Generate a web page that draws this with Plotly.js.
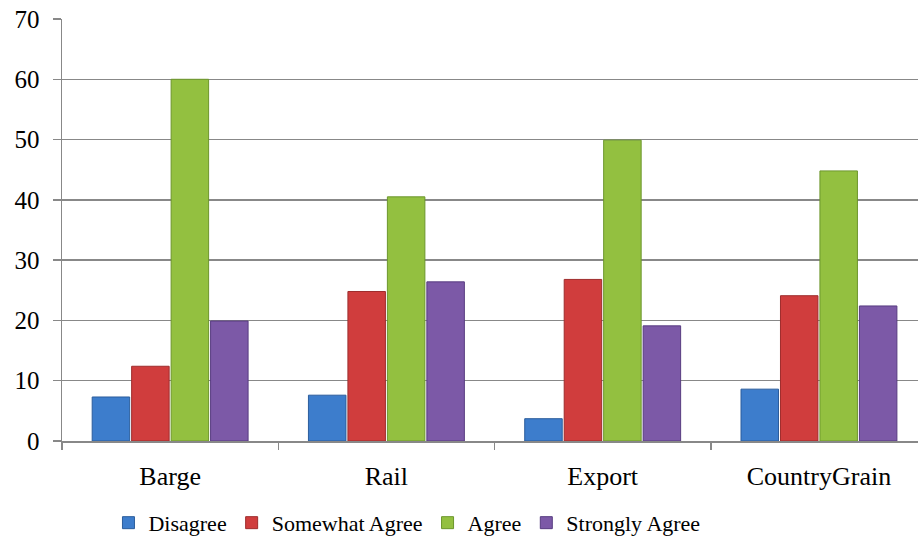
<!DOCTYPE html>
<html>
<head>
<meta charset="utf-8">
<script src="https://cdn.plot.ly/plotly-3.0.1.min.js"></script>
<style>
  html, body { margin: 0; padding: 0; background: #ffffff; }
  #chart { width: 918px; height: 548px; }
</style>
</head>
<body>
<div id="chart"></div>
<script>
// Survey responses by transport mode (percent of respondents)
const categories = ["Barge", "Rail", "Export", "CountryGrain"];
const seriesNames = ["Disagree", "Somewhat Agree", "Agree", "Strongly Agree"];
const disagree = [7.3, 7.6, 3.7, 8.6];
const somewhatAgree = [12.4, 24.8, 26.8, 24.1];
const agree = [60.0, 40.5, 49.9, 44.8];
const stronglyAgree = [19.9, 26.4, 19.1, 22.4];
const yTicks = [0, 10, 20, 30, 40, 50, 60, 70];

const fills = ["#3d7dcc", "#d03d3d", "#93c040", "#7c59a7"];
const edges = ["#2b5d9c", "#9e2c2c", "#6c962c", "#573c80"];
const values = [disagree, somewhatAgree, agree, stronglyAgree];

const traces = values.map((v, i) => ({
  type: "bar",
  name: seriesNames[i],
  x: categories,
  y: v,
  marker: { color: fills[i], line: { color: edges[i], width: 1 } },
  hoverinfo: "skip"
}));

const serif = "Liberation Serif, Times New Roman, serif";
const axisGrey = "#888888";
const layout = {
  width: 918,
  height: 548,
  margin: { l: 62, r: 0, t: 19, b: 107 },
  paper_bgcolor: "#ffffff",
  plot_bgcolor: "#ffffff",
  font: { family: serif, color: "#000000", size: 22 },
  barmode: "group",
  bargap: 0.27,
  bargroupgap: 0.05,
  showlegend: true,
  legend: {
    orientation: "h",
    x: 0.403, xanchor: "center",
    y: -0.194, yanchor: "middle",
    font: { family: serif, size: 22 },
    itemwidth: 30,
    tracegroupgap: 0
  },
  xaxis: {
    type: "category",
    range: [-0.5, 3.458],
    showgrid: false,
    showline: true,
    linecolor: axisGrey,
    linewidth: 1.5,
    ticks: "outside",
    tickson: "boundaries",
    ticklen: 7,
    tickwidth: 1.5,
    tickcolor: axisGrey,
    ticklabelstandoff: 11,
    tickfont: { family: serif, size: 26 },
    zeroline: false,
    fixedrange: true
  },
  yaxis: {
    range: [0, 70],
    tickvals: yTicks,
    ticktext: yTicks.map(String),
    showgrid: true,
    gridcolor: axisGrey,
    gridwidth: 1.5,
    showline: true,
    linecolor: axisGrey,
    linewidth: 1.5,
    ticks: "outside",
    ticklen: 8,
    tickwidth: 1.5,
    tickcolor: axisGrey,
    ticklabelstandoff: 8,
    tickfont: { family: serif, size: 25 },
    zeroline: false,
    fixedrange: true
  }
};

Plotly.newPlot("chart", traces, layout, { displayModeBar: false, staticPlot: true });
</script>
</body>
</html>
